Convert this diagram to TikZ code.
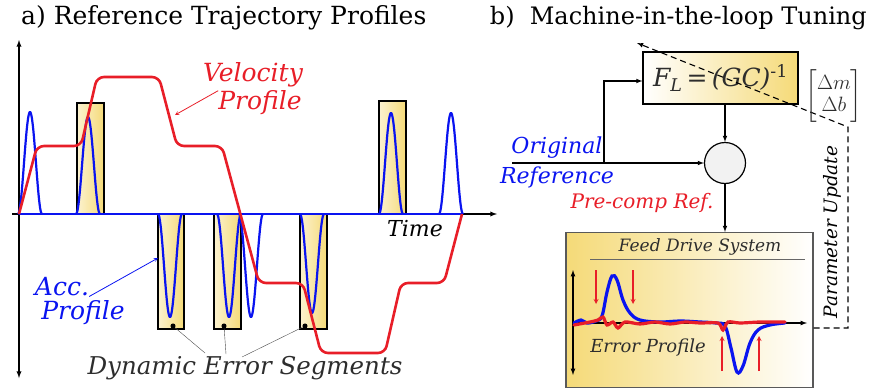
\documentclass[tikz,border=0pt]{standalone}
\usetikzlibrary{arrows,positioning,shapes,calc}
\usepackage{amsmath,amssymb}
\usepackage{xcolor}
\usepackage{fontspec}
\setmainfont{DejaVu Serif}
\definecolor{accblue}{RGB}{10,20,240}
\definecolor{velred}{RGB}{232,30,40}
\definecolor{segyellow}{RGB}{245,218,120}
\definecolor{txtgray}{RGB}{45,45,45}
\newcommand{\fsz}[1]{\fontsize{#1}{#1}\selectfont}

\tikzset{
  seg/.style={draw=black,line width=1.2pt,left color=segyellow!35,right color=segyellow},
  lbl/.style={inner sep=0pt,font=\itshape},
  axis/.style={line width=1.3pt,-latex},
  wire/.style={line width=1.1pt},
}

\begin{document}
\begin{tikzpicture}[x=1pt,y=-1pt]
  \useasboundingbox (0,0) rectangle (871,391);

  % titles
  \node[anchor=west,inner sep=0pt] (ttla) at (21,18) {\fsz{25}a) Reference Trajectory Profiles};
  \node[anchor=east,inner sep=0pt] (ttlb) at (867,18) {\fsz{24}b)~ Machine-in-the-loop Tuning};

  % a) error segments
  \draw[seg] (77,103) rectangle (104,214);
  \draw[seg] (379,101) rectangle (406,214);
  \draw[seg] (158,214) rectangle (184,329);
  \draw[seg] (214,214) rectangle (241,329);
  \draw[seg] (300,214) rectangle (327,329);

  % axes
  \coordinate (o) at (19,214);
  \draw[axis] (o) -- (19,40);
  \draw[axis] (o) -- (19,378);
  \draw[axis] (12,214) -- (497,214);

  % acceleration
  \draw[accblue,line width=2.2pt] (o) -- (462,214);
  \foreach \c/\h in {30/102,88/97,391/101,451/101,170/-103,229/-103,251/-103,312/-99}
    \draw[accblue,line width=2.2pt] plot[domain=\c-12:\c+12,samples=40]
      (\x,{214-\h*(0.5+0.5*cos(180*(\x-\c)/12))});

  % velocity
  \draw[velred,line width=2.6pt,rounded corners=7pt] (o) -- (37,146) -- (81,146) -- (97,77)
    -- (159,77) -- (177,146) -- (222,146) -- (259,283) -- (303,283) -- (321,353)
    -- (385,353) -- (401,283) -- (444,283) -- (462,214);

  % labels a)
  \node[lbl,velred] (velo) at (253,75) {\fsz{25}Velocity};
  \node[lbl,velred] (velp) at (260,103) {\fsz{25}Profile};
  \coordinate (vtip) at (175,115);
  \draw[velred,thick,-stealth] (velp.north west) -- (vtip);

  \node[lbl,accblue] (acco) at (62,287) {\fsz{25}Acc.};
  \node[lbl,accblue] (accp) at (83,313) {\fsz{25}Profile};
  \coordinate (atip) at (158,258);
  \draw[accblue,thick,-stealth] (acco.south east) -- (atip);

  \node[lbl] (time) at (415,229) {\fsz{22}Time};

  \node[lbl,txtgray] (des) at (245,368) {\fsz{24.5}Dynamic Error Segments};
  \foreach \p/\n in {173/d1,224/d2,305/d3}
    \node[circle,fill=black,inner sep=1.8pt] (\n) at (\p,326) {};
  \coordinate (e1) at (205,353);
  \coordinate (e2) at (226,354);
  \coordinate (e3) at (242,357);
  \draw[gray!60!black] (d1) -- (e1);
  \draw[gray!60!black] (d2) -- (e2);
  \draw[gray!60!black] (d3) -- (e3);

  % b) loop
  \node[draw,line width=1.2pt,left color=white,right color=segyellow,
        minimum width=155pt,minimum height=52pt,text=txtgray] (fl) at (720.5,78)
        {\fsz{25}\itshape F\textsubscript{L}\,=\,(GC)\textsuperscript{\upshape-1}};
  \node[circle,draw,line width=1.2pt,fill=gray!10,minimum size=41pt,inner sep=0pt] (sum) at (725,163) {};
  \draw[wire,-latex] (sum.north |- fl.south) -- (sum.north);

  \coordinate (in) at (512,163);
  \coordinate (br) at (604,163);
  \draw[wire,-latex] (in) -- (sum.west);
  \draw[wire,-latex] (br) |- ($(fl.west)+(0,3)$);

  \node[lbl,accblue] (orig) at (557,148) {\fsz{22}Original};
  \node[lbl,accblue] (ref) at (557,177) {\fsz{22}Reference};
  \node[lbl,velred] (pre) at (642,203) {\fsz{20}Pre-comp Ref.};

  \node[draw=gray!70!black,line width=1.2pt,left color=segyellow,right color=white,
        minimum width=247pt,minimum height=155pt] (fds) at (689.5,310) {};
  \draw[wire,-latex] (sum.south) -- (sum.south |- fds.north);

  \node[lbl,txtgray] (fdst) at (700,247) {\fsz{17}Feed Drive System};
  \draw[gray!80!black] (590,259) -- (805,259);

  % error profile
  \draw[line width=1.2pt,latex-latex] (573,270) -- (573,375);
  \draw[line width=1.2pt,-latex] (573,323) -- (807,323);
  \draw[accblue,line width=3.2pt,line cap=round] plot[smooth,tension=0.6] coordinates {
    (574,323) (581,320) (587,323) (596,321) (602,316) (607,292) (612,276) (617,280)
    (623,300) (630,313) (640,320) (660,322) (680,321) (700,322) (716,323) (725,326)
    (731,348) (737,372) (743,366) (750,343) (758,330) (770,325) (785,323)};
  \draw[velred,line width=3.2pt,line cap=round] plot[smooth,tension=0.5] coordinates {
    (574,325) (590,322) (598,320) (603,317) (607,325) (613,322) (618,328) (625,322)
    (640,324) (655,322) (670,324) (685,322) (700,323) (718,323) (723,330) (728,322)
    (740,323) (760,322) (785,322)};
  \foreach \p in {596,633}
    \draw[velred,line width=1.2pt,-stealth] (\p,270) -- (\p,304);
  \foreach \p in {722,759}
    \draw[velred,line width=1.2pt,-stealth] (\p,371) -- (\p,336);
  \node[lbl,txtgray] (errp) at (648,348) {\fsz{18}Error Profile};

  % parameter update
  \coordinate (pu1) at (848,328);
  \coordinate (pu2) at (848,127);
  \coordinate (pu3) at (637,43);
  \draw[wire,dash pattern=on 6pt off 4pt,-latex] ($(fds.east)+(0,18)$) -- (pu1) -- (pu2) -- (pu3);
  \node[lbl,rotate=90] (pu) at (832,232) {\fsz{18.5}Parameter Update};
  \node[txtgray,inner sep=0pt] (dmb) at (834,96) {\fsz{22}$\begin{bmatrix}\Delta m\\ \Delta b\end{bmatrix}$};
\end{tikzpicture}
\end{document}
